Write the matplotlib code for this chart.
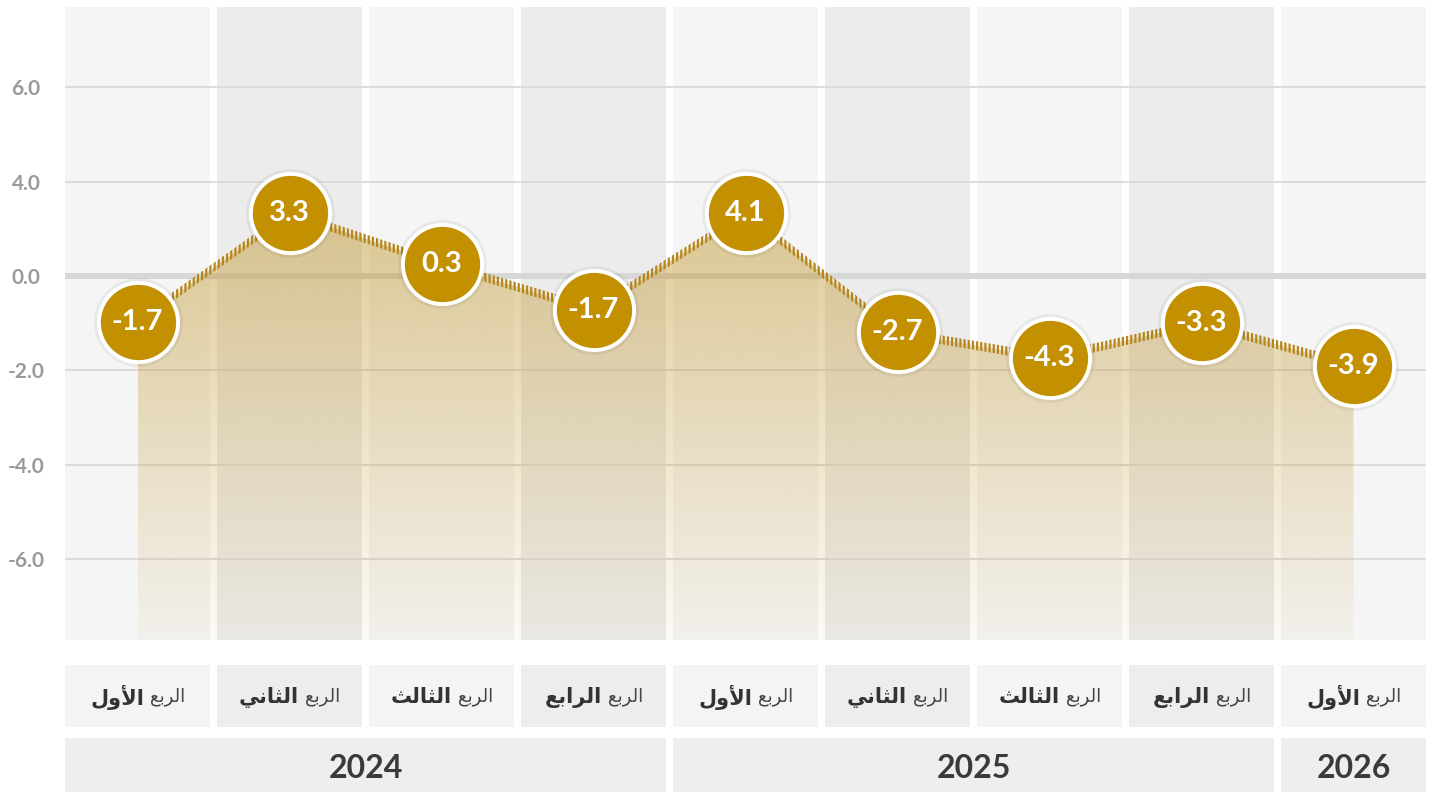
import numpy as np
import matplotlib
matplotlib.use('Agg')
import matplotlib.pyplot as plt
from matplotlib.patches import Polygon, Rectangle
from matplotlib.transforms import IdentityTransform

# ---------------- data ----------------
years = ['2024', '2025', '2026']
quarters_per_year = [4, 4, 1]
quarters = ['الربع الأول', 'الربع الثاني', 'الربع الثالث', 'الربع الرابع',
            'الربع الأول', 'الربع الثاني', 'الربع الثالث', 'الربع الرابع',
            'الربع الأول']
values = [-1.7, 3.3, 0.3, -1.7, 4.1, -2.7, -4.3, -3.3, -3.9]
# height of each point on the chart's own grid, as drawn in the reference
levels = [-0.97, 1.33, 0.25, -0.72, 1.33, -1.19, -1.74, -1.00, -1.91]
ytick_pos = [4, 2, 0, -2, -4, -6]
ytick_labels = ['6.0', '4.0', '0.0', '-2.0', '-4.0', '-6.0']

# ---------------- Arabic shaping (presentation forms, visual order) ----------------
AR_FORMS = {
    '\u0627': ('\uFE8D', '\uFE8E', None, None),
    '\u0623': ('\uFE83', '\uFE84', None, None),
    '\u0644': ('\uFEDD', '\uFEDE', '\uFEDF', '\uFEE0'),
    '\u0631': ('\uFEAD', '\uFEAE', None, None),
    '\u0628': ('\uFE8F', '\uFE90', '\uFE91', '\uFE92'),
    '\u0639': ('\uFEC9', '\uFECA', '\uFECB', '\uFECC'),
    '\u0648': ('\uFEED', '\uFEEE', None, None),
    '\u062B': ('\uFE99', '\uFE9A', '\uFE9B', '\uFE9C'),
    '\u0646': ('\uFEE5', '\uFEE6', '\uFEE7', '\uFEE8'),
    '\u064A': ('\uFEF1', '\uFEF2', '\uFEF3', '\uFEF4'),
}
LAM_ALEF = {'\u0627': ('\uFEFB', '\uFEFC', None, None),
            '\u0623': ('\uFEF7', '\uFEF8', None, None)}


def shape(word):
    toks = []
    i = 0
    while i < len(word):
        c = word[i]
        if c == '\u0644' and i + 1 < len(word) and word[i + 1] in LAM_ALEF:
            toks.append(LAM_ALEF[word[i + 1]])
            i += 2
        elif c in AR_FORMS:
            toks.append(AR_FORMS[c])
            i += 1
        else:
            toks.append((c, None, None, None))
            i += 1
    out = []
    for k, t in enumerate(toks):
        prev = toks[k - 1] if k > 0 else None
        nxt = toks[k + 1] if k + 1 < len(toks) else None
        jp = prev is not None and prev[2] is not None and t[1] is not None
        jn = t[2] is not None and nxt is not None and nxt[1] is not None
        if jp and jn:
            out.append(t[3])
        elif jp:
            out.append(t[1])
        elif jn:
            out.append(t[2])
        else:
            out.append(t[0])
    return ''.join(reversed(out))


# ---------------- figure ----------------
W, H = 1432, 792
fig = plt.figure(figsize=(W / 100, H / 100), dpi=100)
fig.patch.set_facecolor('white')
plt.rcParams['hatch.linewidth'] = 1.6


def frac(l, t, r, b):
    return [l / W, 1 - b / H, (r - l) / W, (b - t) / H]


n = len(values)
x = np.arange(n)
colw = 145 / 152
xlim = (-0.5 + (1 - colw) / 2, n - 0.5 - (1 - colw) / 2)
ylim = (-7.71, 5.70)

light, dark = '#f5f5f5', '#ececec'
col_colors = [light if i % 2 == 0 else dark for i in range(n)]
q_colors = ['#f4f4f4' if i % 2 == 0 else '#ededed' for i in range(n)]

ax = fig.add_axes(frac(65, 7, 1426, 640))
ax.bar(x, ylim[1] - ylim[0], bottom=ylim[0], width=colw, color=col_colors, zorder=0)
for yp in ytick_pos:
    if yp == 0:
        ax.axhline(0, color='#d7d7d7', lw=4.3, zorder=1)
    else:
        ax.axhline(yp, color='#dcdcdc', lw=1.4, zorder=1)

# gradient area under the line
gold = np.array([196, 156, 56]) / 255
N = 256
img = np.zeros((N, 1, 4))
img[..., :3] = gold
img[:, 0, 3] = np.linspace(0.52, 0.05, N)
top_v = max(levels)
im = ax.imshow(img, extent=(x[0], x[-1], ylim[0], top_v), aspect='auto',
               origin='upper', zorder=2, interpolation='bilinear')
poly = Polygon(np.column_stack([np.r_[x, x[-1], x[0]],
                                np.r_[levels, ylim[0], ylim[0]]]),
               closed=True, transform=ax.transData, facecolor='none', edgecolor='none')
ax.add_patch(poly)
im.set_clip_path(poly)

# hatched line: a thin band along the line filled with vertical hatching
lv = np.asarray(levels)
half = 0.095
band = Polygon(np.column_stack([np.r_[x, x[::-1]], np.r_[lv + half, (lv - half)[::-1]]]),
               closed=True, facecolor='none', edgecolor='#b5861a', hatch='||||',
               lw=0, zorder=3)
ax.add_patch(band)

# circles
ax.plot(x, levels, 'o', ms=64, color='black', alpha=0.05, mew=0, zorder=4)
ax.plot(x, levels, 'o', ms=57, mfc='#c29000', mec='white', mew=2.8, zorder=5)
for xi, yi, v in zip(x, levels, values):
    ax.text(xi, yi, f'{v:.1f}', ha='center', va='center', color='white',
            fontsize=21, fontweight='bold', family='Lato', zorder=6)

ax.set_xlim(xlim)
ax.set_ylim(ylim)
ax.set_xticks([])
ax.set_yticks(ytick_pos, ytick_labels)
ax.tick_params(axis='y', length=0, pad=28)
for lbl in ax.get_yticklabels():
    lbl.set_fontfamily('Lato')
    lbl.set_fontweight('bold')
    lbl.set_fontsize(15)
    lbl.set_color('#9a9a9a')
    lbl.set_horizontalalignment('center')
for s in ax.spines.values():
    s.set_visible(False)
ax.set_facecolor('white')

# ---------------- bottom category rows ----------------
axb = fig.add_axes(frac(65, 640, 1426, 792))
axb.set_xlim(xlim)
axb.set_ylim(792, 640)
axb.axis('off')
for i in range(n):
    axb.add_patch(Rectangle((i - colw / 2, 665), colw, 62, color=q_colors[i], lw=0))

start = 0
for yr, cnt in zip(years, quarters_per_year):
    l = start - colw / 2
    r = start + cnt - 1 + colw / 2
    axb.add_patch(Rectangle((l, 738), r - l, 60, color='#eeeeee', lw=0))
    axb.text((l + r) / 2, 769, yr, ha='center', va='center', fontsize=23,
             fontweight='bold', family='Lato', color='#3a3a3a')
    start += cnt

renderer = fig.canvas.get_renderer()
for i, q in enumerate(quarters):
    w_reg, w_bold = q.split(' ')
    cx, cy = axb.transData.transform((i, 697))
    t_reg = fig.text(0, 0, shape(w_reg), fontsize=13, family='DejaVu Sans',
                     color='#444444', ha='right', va='center', transform=IdentityTransform())
    t_bold = fig.text(0, 0, shape(w_bold), fontsize=15, fontweight='bold',
                      family='DejaVu Sans', color='#333333', ha='left', va='center',
                      transform=IdentityTransform())
    a = t_reg.get_window_extent(renderer).width
    b = t_bold.get_window_extent(renderer).width
    gap = 6
    total = a + b + gap
    left = cx - total / 2
    t_bold.set_position((left, cy))
    t_reg.set_position((left + total, cy))

fig.savefig('out.png', dpi=100, facecolor='white')
